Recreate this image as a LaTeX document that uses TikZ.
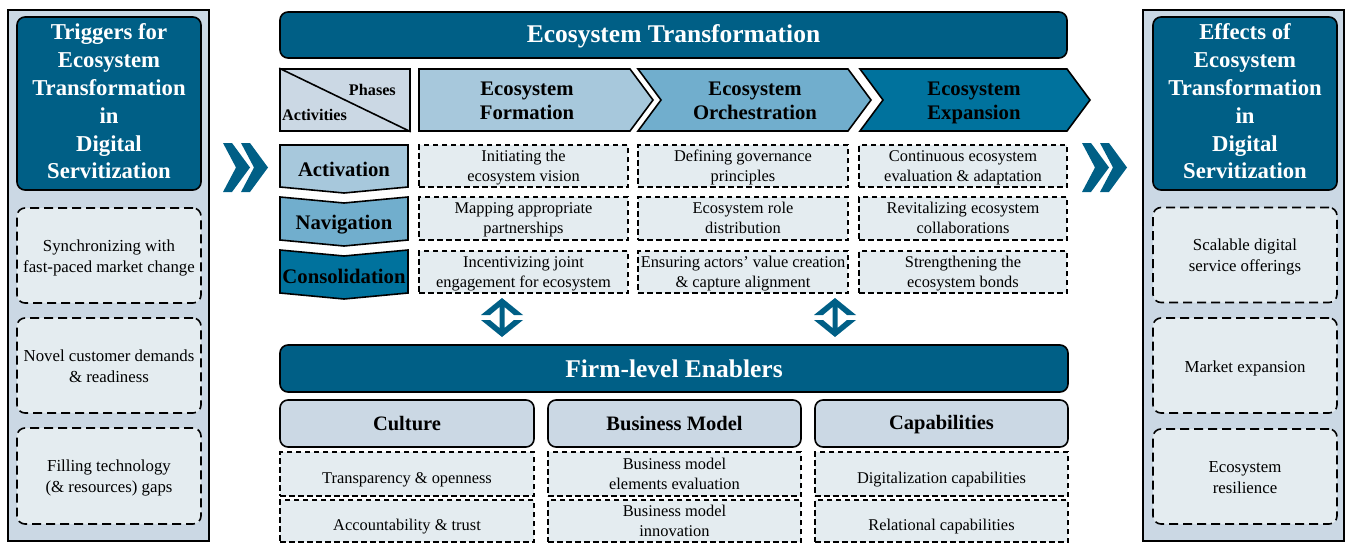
\documentclass[tikz,border=0pt]{standalone}
\usepackage{fontspec}
\setmainfont{Liberation Serif}
\definecolor{deepblue}{HTML}{005F86}
\definecolor{paleblue}{HTML}{CBD8E4}
\definecolor{cellgray}{HTML}{E4ECF0}
\definecolor{phaseA}{HTML}{A7C8DC}
\definecolor{phaseB}{HTML}{71AECD}
\definecolor{phaseC}{HTML}{00729D}

\begin{document}
\begin{tikzpicture}[x=1pt,y=-1pt]

\tikzset{panel/.style = {draw, line width=1.6pt, fill=paleblue, inner sep=0pt}}
\tikzset{headbox/.style = {draw, line width=1.6pt, fill=deepblue, rounded corners=8pt, text=white, align=center, inner sep=0pt, font=\fontsize{22.7}{27.8}\selectfont\bfseries, execute at end node=\rule[-4pt]{0pt}{4pt}}}
\tikzset{sidebase/.style = {draw, dash pattern=on 9pt off 5pt, line width=1.6pt, fill=cellgray, rounded corners=8pt, align=center, inner sep=0pt, font=\fontsize{16.8}{21}\selectfont, execute at end node=\rule[-3.7pt]{0pt}{3.7pt}}}
\tikzset{sidecell/.style = {sidebase, execute at begin node=\rule{0pt}{37pt}}}
\tikzset{sideone/.style = {sidebase, execute at begin node=\rule{0pt}{17pt}}}
\tikzset{cellbase/.style = {draw, dash pattern=on 5.5pt off 3.5pt, line width=1.5pt, fill=cellgray, align=center, inner sep=0pt, font=\fontsize{16.4}{20}\selectfont, execute at end node=\rule[-3.6pt]{0pt}{3.6pt}}}
\tikzset{cell/.style = {cellbase, execute at begin node=\rule{0pt}{34.5pt}}}
\tikzset{cellone/.style = {cellbase, execute at begin node=\rule{0pt}{22pt}}}
\tikzset{bar/.style = {draw, line width=1.6pt, fill=deepblue, rounded corners=8pt, text=white, inner sep=0pt, font=\fontsize{25.5}{28}\selectfont\bfseries, execute at begin node=\rule[-3.2pt]{0pt}{24.2pt}}}
\tikzset{subhead/.style = {draw, line width=1.6pt, fill=paleblue, rounded corners=8pt, inner sep=0pt, font=\fontsize{20.5}{22}\selectfont\bfseries, execute at begin node=\rule[-3.4pt]{0pt}{20.4pt}}}
\tikzset{phase/.style = {draw, line width=1.6pt, line join=miter}}
\tikzset{phaselabel/.style = {align=center, inner sep=0pt, font=\fontsize{20.7}{24}\selectfont\bfseries, execute at begin node=\rule{0pt}{43pt}, execute at end node=\rule[-3.4pt]{0pt}{3.4pt}}}
\tikzset{rowlabel/.style = {inner sep=0pt, font=\fontsize{20.7}{24}\selectfont\bfseries, execute at begin node=\rule[-3.4pt]{0pt}{24.4pt}}}

\useasboundingbox (0,0) rectangle (1347,543);

% left panel
\node[panel, minimum width=201pt, minimum height=531pt] (trigpanel) at (108.5,275.5) {};
\node[headbox, minimum width=184pt, minimum height=173pt] (trighead) at (109,103.5) {Triggers for\\Ecosystem\\Transformation\\in\\Digital\\Servitization};
\node[sidecell, minimum width=184pt, minimum height=95pt] (trig1) at (109,255.5) {Synchronizing with\\fast-paced market change};
\node[sidecell, minimum width=184pt, minimum height=95pt] (trig2) at (109,365.5) {Novel customer demands\\\& readiness};
\node[sidecell, minimum width=184pt, minimum height=96pt] (trig3) at (109,476) {Filling technology\\(\& resources) gaps};

% right panel
\node[panel, minimum width=201pt, minimum height=531pt] (effpanel) at (1243.5,275.5) {};
\node[headbox, minimum width=184pt, minimum height=173pt] (effhead) at (1245,103.5) {Effects of\\Ecosystem\\Transformation\\in\\Digital\\Servitization};
\node[sidecell, minimum width=184pt, minimum height=95pt] (eff1) at (1245,255) {Scalable digital\\service offerings};
\node[sideone, minimum width=184pt, minimum height=95pt] (eff2) at (1245,365.5) {Market expansion};
\node[sidecell, minimum width=184pt, minimum height=95pt] (eff3) at (1245,476.5) {Ecosystem\\resilience};

% double chevrons
\foreach \x in {223,241,1082,1100}
  \fill[deepblue] (\x,143) -- (\x+9,143) -- (\x+27,167.5) -- (\x+9,192) -- (\x,192) -- (\x+13,167.5) -- cycle;

% ecosystem transformation
\node[bar, minimum width=787pt, minimum height=46pt] (ecotitle) at (673.5,35) {Ecosystem Transformation};

\node[panel, minimum width=130pt, minimum height=62pt] (phasebox) at (345,100) {};
\draw[line width=1.6pt] (phasebox.north west) -- (phasebox.south east);
\node[anchor=east, inner sep=0pt, font=\fontsize{16.2}{18}\selectfont\bfseries] (phasetxt) at (396,90) {Phases};
\node[anchor=west, inner sep=0pt, font=\fontsize{16.2}{18}\selectfont\bfseries] (acttxt) at (282,115) {Activities};

% phases
\draw[phase, fill=phaseA] (419,69) -- (630,69) -- (653,100) -- (630,131) -- (419,131) -- cycle;
\draw[phase, fill=phaseB] (638,69) -- (848,69) -- (871,100) -- (848,131) -- (638,131) -- (661,100) -- cycle;
\draw[phase, fill=phaseC] (860,69) -- (1067,69) -- (1090,100) -- (1067,131) -- (860,131) -- (883,100) -- cycle;
\node[phaselabel] (formation) at (527,100) {Ecosystem\\Formation};
\node[phaselabel] (orchestration) at (755,100) {Ecosystem\\Orchestration};
\node[phaselabel] (expansion) at (974,100) {Ecosystem\\Expansion};

% activities
\draw[phase, fill=phaseA] (280,145) -- (408,145) -- (408,187) -- (344,193) -- (280,187) -- cycle;
\draw[phase, fill=phaseB] (280,197) -- (344,203) -- (408,197) -- (408,240) -- (344,246) -- (280,240) -- cycle;
\draw[phase, fill=phaseC] (280,250) -- (344,256) -- (408,250) -- (408,293) -- (344,299) -- (280,293) -- cycle;
\node[rowlabel] (activation) at (344,168) {Activation};
\node[rowlabel] (navigation) at (344,221) {Navigation};
\node[rowlabel] (consolidation) at (344,275) {Consolidation};

% activity cells
\node[cell, minimum width=209pt, minimum height=42pt] (a11) at (523.5,166) {Initiating the\\ecosystem vision};
\node[cell, minimum width=210pt, minimum height=42pt] (a12) at (743,166) {Defining governance\\principles};
\node[cell, minimum width=208pt, minimum height=42pt] (a13) at (963,166) {Continuous ecosystem\\evaluation \& adaptation};
\node[cell, minimum width=209pt, minimum height=43pt] (a21) at (523.5,218.5) {Mapping appropriate\\partnerships};
\node[cell, minimum width=210pt, minimum height=43pt] (a22) at (743,218.5) {Ecosystem role\\distribution};
\node[cell, minimum width=208pt, minimum height=43pt] (a23) at (963,218.5) {Revitalizing ecosystem\\collaborations};
\node[cell, minimum width=209pt, minimum height=42pt] (a31) at (523.5,272) {Incentivizing joint\\engagement for ecosystem};
\node[cell, minimum width=210pt, minimum height=42pt] (a32) at (743,272) {Ensuring actors' value creation\\\& capture alignment};
\node[cell, minimum width=208pt, minimum height=42pt] (a33) at (963,272) {Strengthening the\\ecosystem bonds};

% up-down arrows
\foreach \x in {502,835}
  \fill[deepblue] (\x,298) -- (\x+21,315) -- (\x+12,315) -- (\x+2.5,307) -- (\x+2.5,328) -- (\x+12,320) -- (\x+21,320) -- (\x,337) -- (\x-21,320) -- (\x-12,320) -- (\x-2.5,328) -- (\x-2.5,307) -- (\x-12,315) -- (\x-21,315) -- cycle;

% firm-level enablers
\node[bar, minimum width=788pt, minimum height=47pt] (enablers) at (674,368.5) {Firm-level Enablers};
\node[subhead, minimum width=254pt, minimum height=47pt] (culture) at (407,423.5) {Culture};
\node[subhead, minimum width=253pt, minimum height=47pt] (bizmodel) at (674.5,423.5) {Business Model};
\node[subhead, minimum width=253pt, minimum height=47pt] (capab) at (941.5,423.5) {Capabilities};
\node[cellone, minimum width=254pt, minimum height=44pt] (e11) at (407,474) {Transparency \& openness};
\node[cellone, minimum width=254pt, minimum height=42pt] (e21) at (407,521) {Accountability \& trust};
\node[cell, minimum width=253pt, minimum height=44pt] (e12) at (674.5,474) {Business model\\elements evaluation};
\node[cell, minimum width=253pt, minimum height=42pt] (e22) at (674.5,521) {Business model\\innovation};
\node[cellone, minimum width=253pt, minimum height=44pt] (e13) at (941.5,474) {Digitalization capabilities};
\node[cellone, minimum width=253pt, minimum height=42pt] (e23) at (941.5,521) {Relational capabilities};

\end{tikzpicture}
\end{document}
